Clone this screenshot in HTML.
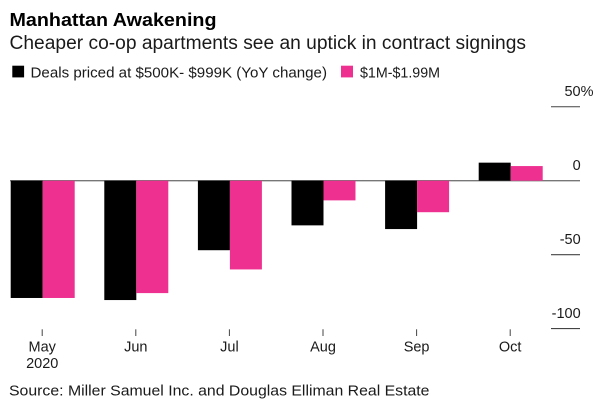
<!DOCTYPE html>
<html lang="en">
<head>
<meta charset="utf-8">
<title>Manhattan Awakening</title>
<style>
html,body{margin:0;padding:0;background:#fff;}
svg{display:block;}
text{font-family:"Liberation Sans",Arial,sans-serif;fill:#1a1a1a;}
</style>
</head>
<body>
<svg id="chart" width="600" height="417" viewBox="0 0 600 417" xmlns="http://www.w3.org/2000/svg">
<rect x="0" y="0" width="600" height="417" fill="#fff"/>
<text x="9.5" y="26" font-size="18.6" font-weight="700" style="fill:#000" textLength="207" lengthAdjust="spacingAndGlyphs">Manhattan Awakening</text>
<text x="9.5" y="49" font-size="19" textLength="516.5" lengthAdjust="spacingAndGlyphs">Cheaper co-op apartments see an uptick in contract signings</text>
<rect x="12.3" y="65.7" width="11.8" height="11.7" fill="#000"/>
<text x="30.5" y="77.4" font-size="14.5" textLength="296.5" lengthAdjust="spacingAndGlyphs">Deals priced at $500K- $999K (YoY change)</text>
<rect x="341" y="65.7" width="12" height="11.7" fill="#ee3190"/>
<text x="360" y="77.4" font-size="14.5" textLength="80" lengthAdjust="spacingAndGlyphs">$1M-$1.99M</text>
<g id="grid"></g>
<g id="bars"></g>
<g id="xaxis"></g>
<text x="9" y="395.3" font-size="15" textLength="420.5" lengthAdjust="spacingAndGlyphs">Source: Miller Samuel Inc. and Douglas Elliman Real Estate</text>
</svg>
<script>
const categories = ["May", "Jun", "Jul", "Aug", "Sep", "Oct"];
const categorySubLabels = ["2020", "", "", "", "", ""];
const dealsMidTier = [-79.3, -80.7, -47, -30.2, -32.7, 12.2];
const dealsUpperTier = [-79.3, -76, -60, -13.3, -21.3, 9.9];
const yTicks = [50, 0, -50, -100];
const yTickLabels = ["50%", "0", "-50", "-100"];

const NS = "http://www.w3.org/2000/svg";
function yScale(v) { return 180.7 - v * 1.479; }
function xBand(i) { return 42.7 + i * 93.6; }
const barWidth = 32;

function make(tag, attrs, parent) {
  const el = document.createElementNS(NS, tag);
  for (const k in attrs) el.setAttribute(k, attrs[k]);
  parent.appendChild(el);
  return el;
}
const grid = document.getElementById("grid");
const bars = document.getElementById("bars");
const xaxis = document.getElementById("xaxis");

yTicks.forEach(function (t, i) {
  const y = yScale(t);
  const isZero = t === 0;
  const line = make("line", {x1: isZero ? 10 : 551, x2: 580, y1: y, y2: y, stroke: isZero ? "#777" : "#444", "stroke-width": isZero ? 1.4 : 1.1}, grid);
  
  
  const label = make("text", {x: i === 0 ? 593.5 : 580.7, y: y - 10.6, "font-size": 14.5, "text-anchor": "end"}, grid);
  label.textContent = yTickLabels[i];
  
  
});

function drawBar(value, x, fill) {
  const y0 = yScale(0);
  const y1 = yScale(value);
  const bar = make("rect", {x: x, y: Math.min(y0, y1), width: barWidth, height: Math.abs(y1 - y0), fill: fill}, bars);
  return bar;
}
categories.forEach(function (c, i) {
  const cx = xBand(i);
  const black = drawBar(dealsMidTier[i], cx - barWidth, "#000");
  
  
  const pink = drawBar(dealsUpperTier[i], cx, "#ee3190");
  
  

  const tick = make("line", {x1: cx - 0.5, x2: cx - 0.5, y1: 329.3, y2: 336, stroke: "#444", "stroke-width": 1}, xaxis);
  
  
  const label = make("text", {x: cx - 0.5, y: 351.3, "font-size": 14.5, "text-anchor": "middle"}, xaxis);
  label.textContent = c;
  
  
  if (categorySubLabels[i]) {
    const sub = make("text", {x: cx - 0.5, y: 368, "font-size": 14.5, "text-anchor": "middle"}, xaxis);
    sub.textContent = categorySubLabels[i];
    
    
  }
});
</script>
</body>
</html>
